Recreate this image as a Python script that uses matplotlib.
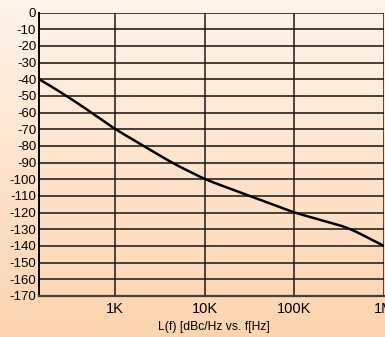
import numpy as np
import matplotlib
matplotlib.use("Agg")
import matplotlib.pyplot as plt
from matplotlib.colors import LinearSegmentedColormap

# Data
log_freq = [2.15, 2.28, 2.6, 3.0, 3.32, 3.63, 4.0, 4.5, 5.0, 5.6, 6.0]
noise_dbc = [-40, -44, -55, -70, -80, -90, -100, -110, -120, -129, -140]
x_ticks = [1e3, 1e4, 1e5, 1e6]
x_labels = ["1K", "10K", "100K", "1M"]
y_ticks = list(range(0, -171, -10))
x_title = "L(f) [dBc/Hz vs. f[Hz]"

plt.rcParams['font.family'] = ['Liberation Sans', 'DejaVu Sans']

fig = plt.figure(figsize=(3.85, 3.37), dpi=100)

# background gradient
bg = fig.add_axes([0, 0, 1, 1], zorder=0)
cmap = LinearSegmentedColormap.from_list("bg", ["#fff4e9", "#fcd4af"])
grad = np.linspace(0, 1, 256).reshape(-1, 1)
bg.imshow(grad, aspect='auto', cmap=cmap, extent=[0, 1, 0, 1], origin='upper')
bg.axis('off')

ax = fig.add_axes([39/385, 1-296/337, 345/385, (296-12.5)/337], zorder=1)
ax.patch.set_alpha(0)
# smooth curve through points in log space
lx = np.linspace(log_freq[0], log_freq[-1], 300)
ly = np.interp(lx, log_freq, noise_dbc)
k = 21
kernel = np.ones(k) / k
ly_s = np.convolve(np.pad(ly, k // 2, mode='reflect', reflect_type='odd'), kernel, mode='valid')
ax.plot(10**lx, ly_s, color='black', lw=1.8, zorder=3)

ax.set_xscale('log')
ax.set_xlim(10**log_freq[0], 1e6)
ax.set_ylim(-170, 0)
ax.set_xticks(x_ticks)
ax.set_xticklabels(x_labels, fontsize=10.5)
ax.xaxis.set_minor_locator(matplotlib.ticker.NullLocator())
ax.set_yticks(y_ticks)
ax.set_yticklabels([str(v) for v in y_ticks], fontsize=9.5)
ax.tick_params(axis='both', length=0, pad=2, colors='black')
ax.tick_params(axis='x', pad=4)

for v in y_ticks:
    ax.axhline(v, color='#4a3f36', lw=1.4, zorder=1)
for v in x_ticks:
    ax.axvline(v, color='#1e1a16', lw=1.1, zorder=1)

for s in ['top', 'right']:
    ax.spines[s].set_visible(False)
ax.spines['left'].set_linewidth(1.4)
ax.spines['bottom'].set_color('#4a3f36')
ax.spines['bottom'].set_linewidth(1.6)

fig.text(214/385, 1-327/337, x_title, ha='center', va='center', fontsize=8.7)

fig.savefig("out.png", dpi=100)
